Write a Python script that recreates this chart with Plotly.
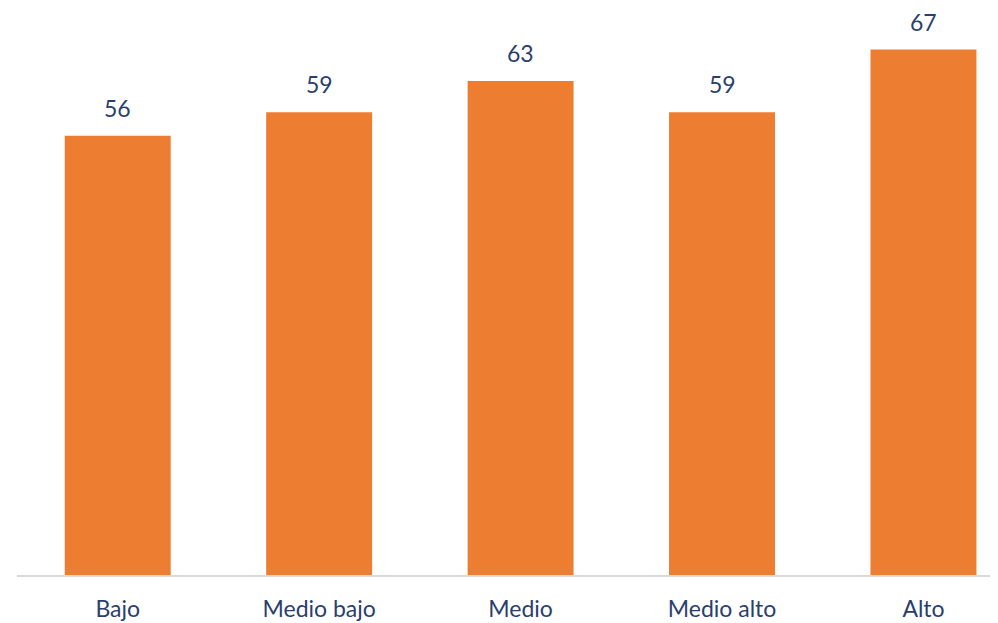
import plotly.graph_objects as go

categorias = ["Bajo", "Medio bajo", "Medio", "Medio alto", "Alto"]
valores = [56, 59, 63, 59, 67]

fig = go.Figure()
fig.add_trace(go.Bar(
    x=categorias, y=valores,
    marker=dict(color="#ED7D31", line=dict(width=0)),
    width=0.526,
))

# etiquetas de datos encima de cada barra
for c, v in zip(categorias, valores):
    fig.add_annotation(x=c, y=v, text=str(v), showarrow=False,
                       yanchor="bottom", yshift=12,
                       font=dict(family="Lato", size=23, color="#2A3F6E"))

# la página tiene 8px de margen en el body
fig.update_layout(
    width=990, height=615,
    margin=dict(l=9, r=0, t=0, b=48),
    paper_bgcolor="white", plot_bgcolor="white",
    showlegend=False,
    font=dict(family="Lato", size=23, color="#2A3F6E"),
)
fig.update_xaxes(range=[-0.5, 4.37], showline=True, linecolor="#D9D9D9", linewidth=2,
                 ticks="", ticklabelstandoff=12, showgrid=False, automargin=False,
                 tickfont=dict(family="Lato", size=23, color="#2A3F6E"))
fig.update_yaxes(range=[0, 72.3], visible=False, showgrid=False, automargin=False)

fig.write_html("out.html")
